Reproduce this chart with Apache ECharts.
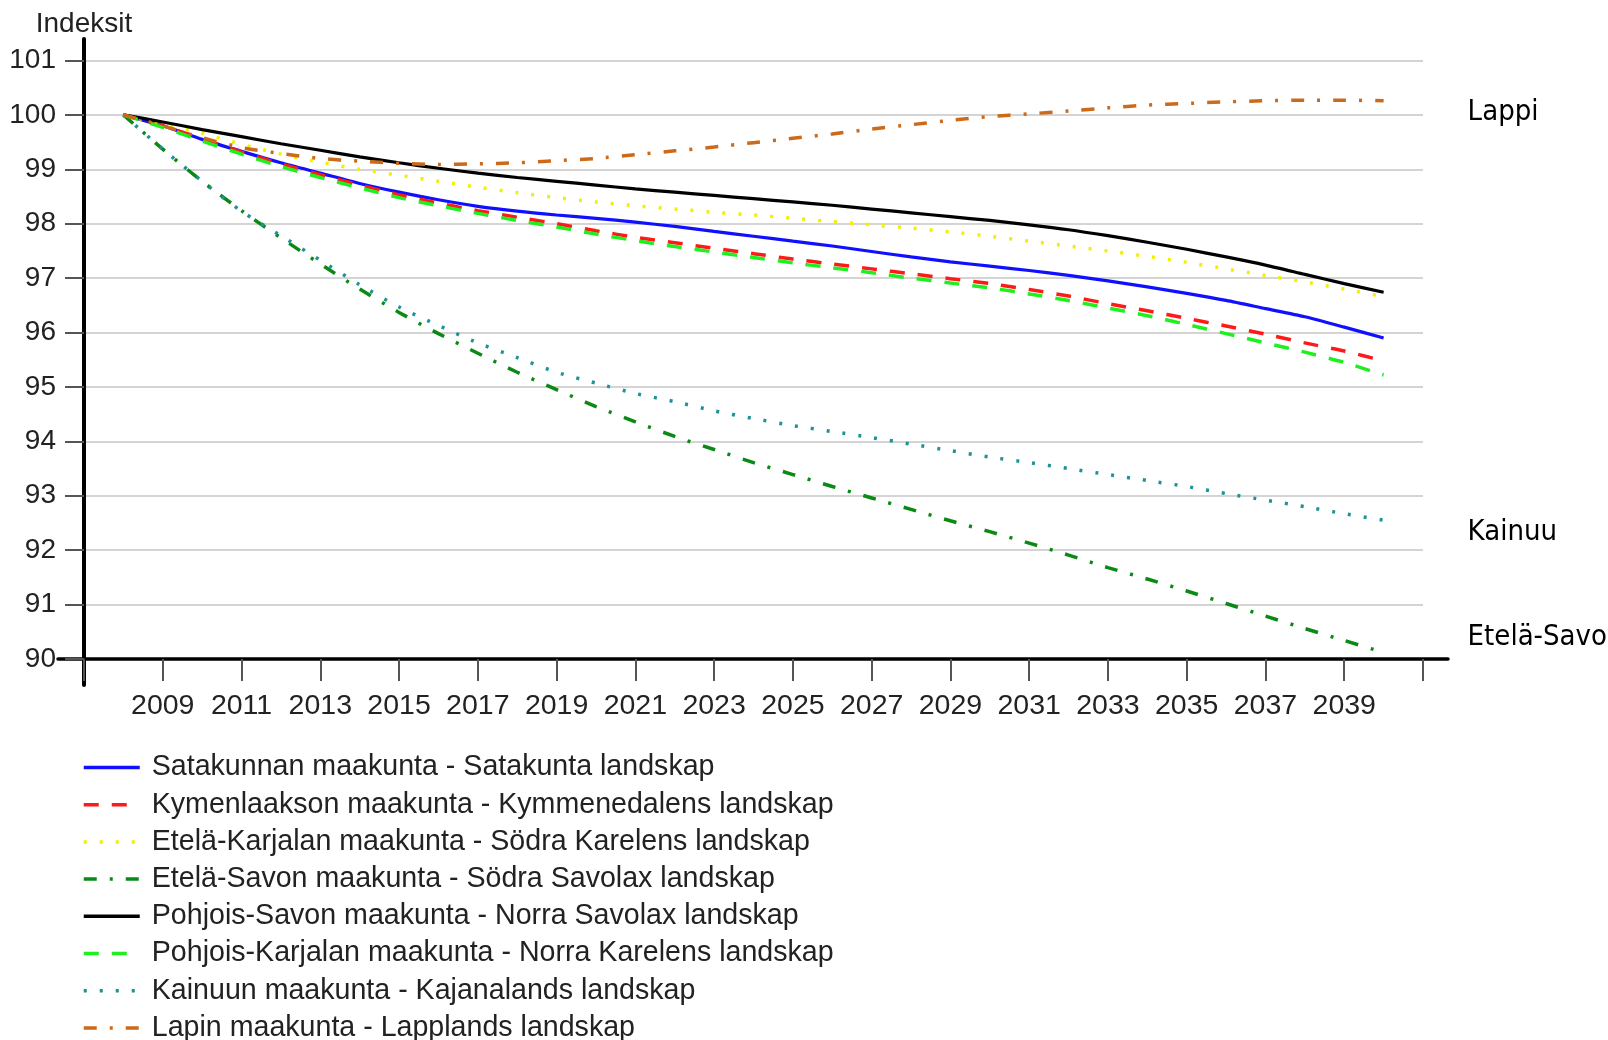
<!DOCTYPE html>
<html>
<head>
<meta charset="utf-8">
<script src="https://cdn.jsdelivr.net/npm/echarts@6/dist/echarts.min.js"></script>
<style>
html,body{margin:0;padding:0;background:#fff;}
#chart{width:1608px;height:1040px;}
</style>
</head>
<body>
<div id="chart"></div>
<script>
const years = [2008,2009,2010,2011,2012,2013,2014,2015,2016,2017,2018,2019,2020,2021,2022,2023,2024,2025,2026,2027,2028,2029,2030,2031,2032,2033,2034,2035,2036,2037,2038,2039,2040];

const satakunta = [100,99.8,99.55,99.33,99.12,98.93,98.74,98.58,98.44,98.32,98.23,98.16,98.1,98.03,97.95,97.86,97.77,97.68,97.59,97.49,97.39,97.3,97.22,97.14,97.05,96.95,96.84,96.72,96.59,96.44,96.29,96.1,95.9];
const kymenlaakso = [100,99.8,99.56,99.32,99.1,98.9,98.71,98.53,98.38,98.24,98.12,98.0,97.87,97.75,97.65,97.55,97.45,97.35,97.26,97.17,97.08,96.99,96.9,96.79,96.67,96.53,96.4,96.26,96.12,95.97,95.81,95.66,95.48];
const etelaKarjala = [100,99.83,99.66,99.46,99.28,99.13,99.0,98.89,98.78,98.67,98.57,98.48,98.4,98.33,98.27,98.21,98.16,98.1,98.04,97.98,97.92,97.85,97.77,97.68,97.59,97.5,97.4,97.29,97.17,97.05,96.93,96.8,96.66];
const etelaSavo = [100,99.37,98.78,98.24,97.74,97.26,96.8,96.37,95.98,95.62,95.27,94.95,94.64,94.36,94.09,93.85,93.61,93.39,93.17,92.96,92.75,92.54,92.34,92.13,91.91,91.68,91.47,91.25,91.02,90.79,90.56,90.34,90.12];
const pohjoisSavo = [100,99.87,99.73,99.6,99.47,99.35,99.23,99.12,99.02,98.93,98.85,98.78,98.71,98.64,98.58,98.52,98.46,98.4,98.34,98.27,98.2,98.13,98.06,97.98,97.89,97.78,97.66,97.53,97.39,97.24,97.07,96.9,96.74];
const pohjoisKarjala = [100,99.77,99.52,99.28,99.05,98.85,98.66,98.48,98.33,98.19,98.06,97.94,97.81,97.69,97.58,97.48,97.38,97.28,97.19,97.1,97.0,96.91,96.82,96.71,96.59,96.45,96.31,96.15,95.98,95.81,95.64,95.45,95.22];
const kainuu = [100,99.37,98.78,98.23,97.78,97.33,96.88,96.47,96.13,95.81,95.54,95.27,95.07,94.88,94.73,94.56,94.42,94.29,94.18,94.07,93.95,93.83,93.71,93.61,93.5,93.39,93.28,93.17,93.04,92.92,92.8,92.67,92.55];
const lappi = [100,99.8,99.58,99.4,99.29,99.2,99.15,99.11,99.09,99.1,99.12,99.16,99.2,99.27,99.34,99.41,99.49,99.57,99.65,99.74,99.82,99.9,99.97,100.02,100.07,100.13,100.18,100.21,100.24,100.26,100.27,100.27,100.26];

const seriesNames = [
  'Satakunnan maakunta - Satakunta landskap',
  'Kymenlaakson maakunta - Kymmenedalens landskap',
  'Etelä-Karjalan maakunta - Södra Karelens landskap',
  'Etelä-Savon maakunta - Södra Savolax landskap',
  'Pohjois-Savon maakunta - Norra Savolax landskap',
  'Pohjois-Karjalan maakunta - Norra Karelens landskap',
  'Kainuun maakunta - Kajanalands landskap',
  'Lapin maakunta - Lapplands landskap'
];
const endLabels = ['', '', '', 'Etelä-Savo', '', '', 'Kainuu', 'Lappi'];
const seriesValues = [satakunta, kymenlaakso, etelaKarjala, etelaSavo, pohjoisSavo, pohjoisKarjala, kainuu, lappi];

const styles = [
  {color:'#1010ff', type:'solid', width:3.2},
  {color:'#ff1a1a', type:[15,13], width:3.5},
  {color:'#f2f000', type:[3,13], width:3.5},
  {color:'#0a8a14', type:[13,13,3,13], width:3.5},
  {color:'#000000', type:'solid', width:3.2},
  {color:'#1ef01e', type:[15,13], width:3.5},
  {color:'#1f9296', type:[3,13], width:3.5},
  {color:'#cc6a1a', type:[13,13,3,13], width:3.5}
];
const labelOffsets = [null,null,null,[84,-15],null,null,[84,12],[84,12]];

const FONT = "'Liberation Sans', Arial, sans-serif";
const LABFONT = "'DejaVu Sans Condensed', 'DejaVu Sans', sans-serif";

const series = seriesValues.map((vals, i) => ({
  name: seriesNames[i],
  type: 'line',
  xAxisIndex: 0,
  yAxisIndex: 0,
  data: years.map((y, k) => [y, vals[k]]),
  symbol: 'none',
  smooth: 0.25,
  lineStyle: {color: styles[i].color, width: styles[i].width, type: styles[i].type},
  itemStyle: {color: styles[i].color},
  endLabel: endLabels[i] ? {
    show: true,
    formatter: endLabels[i],
    color: '#000',
    fontSize: 29,
    fontFamily: LABFONT,
    distance: 0,
    offset: labelOffsets[i]
  } : {show: false},
  z: 3
}));

const chart = echarts.init(document.getElementById('chart'), null, {renderer: 'canvas'});
chart.setOption({
  animation: false,
  backgroundColor: '#ffffff',
  textStyle: {fontFamily: FONT},
  grid: [
    {left: 84, top: 60.5, width: 1339, height: 598.5},
    {left: 58, top: 39, width: 1390, height: 646}
  ],
  xAxis: [
    {
      gridIndex: 0, type: 'value', min: 2007, max: 2041, interval: 2,
      axisLine: {show: false},
      axisTick: {show: true, length: 22, lineStyle: {color: '#555', width: 2}},
      axisLabel: {
        fontSize: 28.5, color: '#222', margin: 33, fontFamily: FONT,
        formatter: v => (v === 2007 || v === 2041) ? '' : String(v)
      },
      splitLine: {show: false}
    },
    {
      gridIndex: 1, type: 'value', min: -26, max: 1364,
      axisLine: {show: true, onZero: true, lineStyle: {color: '#000', width: 3.5}},
      axisTick: {show: false}, axisLabel: {show: false}, splitLine: {show: false}
    }
  ],
  yAxis: [
    {
      gridIndex: 0, type: 'value', min: 90, max: 101, interval: 1,
      name: 'Indeksit', nameLocation: 'end', nameGap: 22,
      nameTextStyle: {fontSize: 28, color: '#222', fontFamily: FONT},
      axisLine: {show: false},
      axisTick: {show: true, length: 19, lineStyle: {color: '#555', width: 2}},
      axisLabel: {fontSize: 28, color: '#222', margin: 28, fontFamily: FONT},
      splitLine: {show: true, lineStyle: {color: '#d4d4d4', width: 2}}
    },
    {
      gridIndex: 1, type: 'value', min: -26, max: 620,
      axisLine: {show: true, onZero: true, lineStyle: {color: '#000', width: 4}},
      axisTick: {show: false}, axisLabel: {show: false}, splitLine: {show: false}
    }
  ],
  legend: {
    orient: 'vertical',
    left: 82,
    top: 753,
    height: 300,
    padding: 0,
    itemWidth: 56,
    itemHeight: 14,
    itemGap: 8.2,
    data: seriesNames,
    itemStyle: {opacity: 0},
    lineStyle: {width: 3.5},
    textStyle: {fontSize: 28.6, color: '#222', fontFamily: FONT, padding: [0, 0, 0, 7]}
  },
  series: series
});
</script>
</body>
</html>
